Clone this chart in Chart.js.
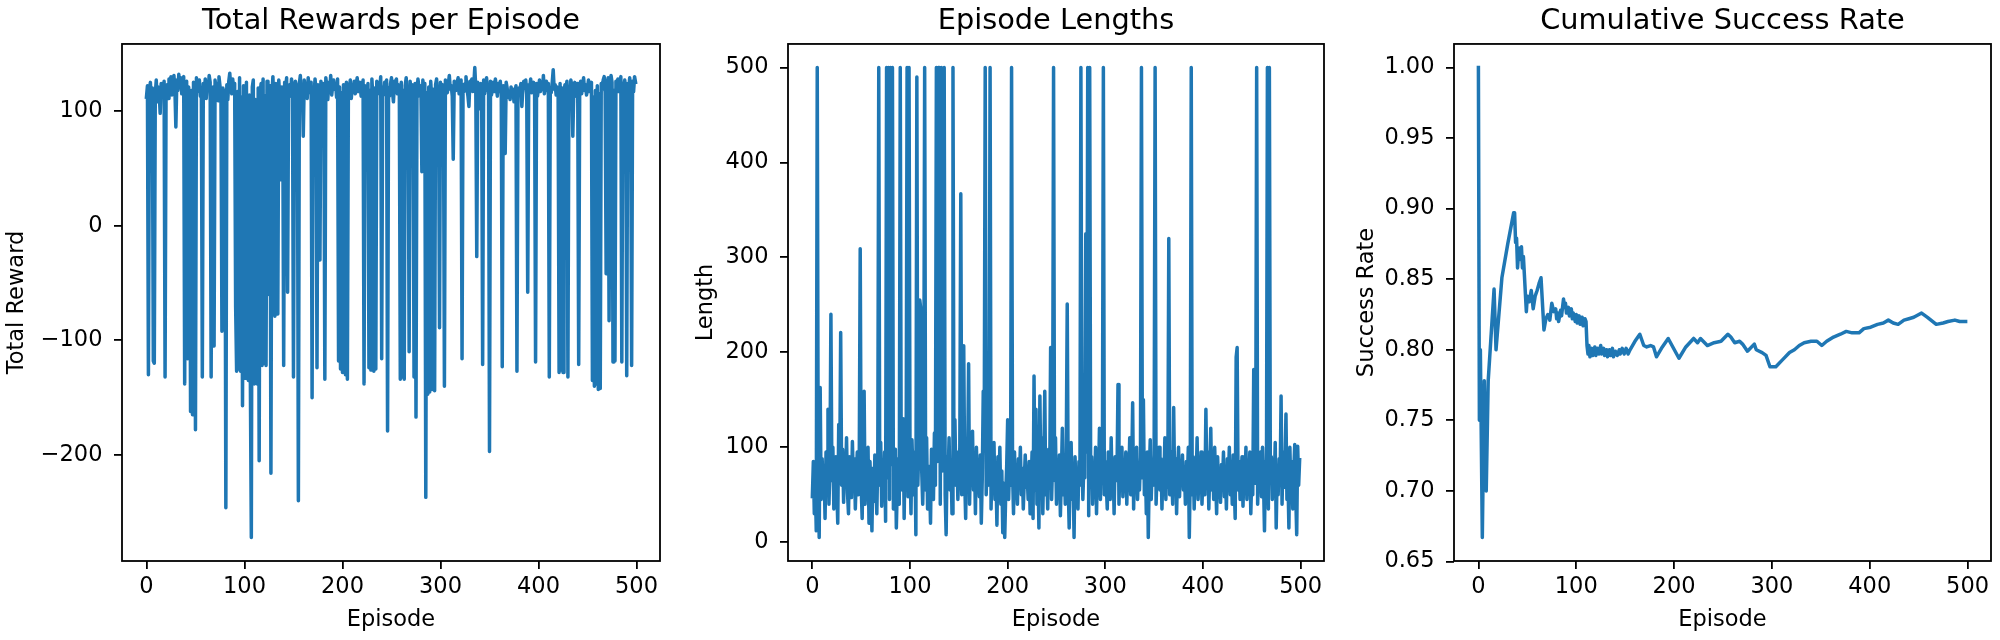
<!DOCTYPE html>
<html>
<head>
<meta charset="utf-8">
<script src="https://cdn.jsdelivr.net/npm/chart.js@4.4.1/dist/chart.umd.min.js"></script>
<style>
html,body{margin:0;padding:0;background:#fff;}
body{width:2000px;height:640px;position:relative;overflow:hidden;}
canvas{position:absolute;top:0;}
</style>
</head>
<body>
<canvas id="c1"></canvas>
<canvas id="c2"></canvas>
<canvas id="c3"></canvas>
<script>
// ---------------- DATA ----------------
const rewards = [
112,122,-130,118,125,110,120,-118,-120,115,127,108,121,116,98,124,113,119,126,-132,
117,123,111,128,119,130,114,125,131,120,86,127,118,132,122,129,115,124,130,-138,
119,126,-116,121,112,-162,118,-165,125,110,-178,129,117,122,127,113,120,-132,124,116,
128,111,123,119,131,125,-132,114,121,-105,127,118,124,109,130,122,115,-92,120,-90,
118,-246,123,110,126,133,121,115,128,119,124,-71,-127,117,-125,129,-127,112,-157,122,
118,-133,125,-130,-135,114,-133,-272,121,127,-138,110,-135,-138,120,-205,116,124,-122,128,
-120,113,-122,126,-60,119,122,-216,115,130,108,-79,124,118,-77,127,112,40,121,116,
-122,125,119,129,-58,117,123,113,128,120,-132,115,126,121,118,-240,124,131,114,122,
78,127,119,124,111,129,121,116,125,-150,120,113,128,118,-124,123,115,-30,126,120,
117,124,-134,129,121,110,125,118,131,114,122,127,119,124,112,128,-118,121,-125,116,
-128,123,118,-130,125,-134,114,120,127,111,122,118,126,115,123,129,117,121,125,113,
119,127,-138,122,116,101,124,-124,118,-126,128,112,-127,120,-125,126,115,123,119,130,
-116,121,114,125,118,127,-179,120,113,124,129,117,108,126,121,128,115,123,119,-134,
125,-132,118,-134,122,129,114,120,-110,126,117,123,119,-132,124,-167,115,128,121,113,
122,47,127,118,124,-237,116,-147,121,-145,126,112,-143,119,-144,123,128,115,120,-89,
125,118,123,114,-140,127,120,116,124,131,119,122,113,58,126,121,118,125,129,115,
120,127,-116,123,117,124,130,119,113,104,126,121,128,117,123,138,120,-27,125,116,
102,124,119,-121,127,115,122,129,118,123,-197,126,114,120,125,117,128,121,113,124,
119,126,115,-123,122,118,63,125,120,112,117,110,121,114,119,108,116,122,-127,113,
120,117,124,104,118,126,121,127,115,-58,123,119,128,116,122,125,118,-119,124,113,
121,127,117,123,119,131,115,122,126,118,124,-132,120,116,125,136,119,123,114,121,
118,-128,124,-126,120,-128,117,123,119,126,-132,121,115,127,122,78,118,125,113,120,
124,-121,119,126,115,122,129,118,123,114,120,127,117,121,125,-135,112,-140,118,-138,
122,-143,115,-142,124,119,127,130,116,-42,123,129,-83,120,131,125,-119,118,-118,126,
121,128,117,124,130,-119,115,122,127,119,-131,124,118,129,121,-122,126,117,130,125
];

const lengths = [
48,85,30,62,12,500,70,5,163,45,88,60,75,25,95,55,140,40,80,240,
65,100,35,78,90,58,20,124,72,221,60,98,42,85,68,110,52,30,90,75,
47,106,62,88,35,70,95,50,80,309,58,25,92,159,40,73,65,100,20,85,
55,12,78,43,92,65,30,88,500,60,105,38,75,50,95,22,500,68,500,45,
500,82,500,35,70,98,15,60,88,40,500,75,55,130,25,100,62,500,48,500,
85,30,108,70,50,95,8,490,60,102,255,246,75,40,90,500,55,110,35,80,
65,20,98,72,45,115,60,500,85,500,500,40,500,75,105,500,50,8,90,68,
110,55,85,30,500,78,129,60,95,45,72,100,367,50,88,207,65,25,105,80,
188,40,95,70,117,55,85,30,100,62,75,48,92,20,68,159,110,500,50,85,
60,95,500,35,80,65,105,45,72,18,90,58,100,40,75,10,62,5,50,80,
129,45,85,60,500,75,30,95,55,70,40,88,62,100,50,78,35,65,92,58,
70,45,85,30,60,95,25,175,55,140,40,78,15,154,65,110,30,88,159,50,
75,35,98,60,205,45,85,500,65,110,40,78,55,92,28,70,120,50,85,40,
95,251,60,15,80,105,45,70,5,90,55,75,35,85,60,500,110,45,80,68,
325,95,500,28,500,65,90,40,75,55,100,30,80,62,120,45,88,70,500,50,
85,60,35,95,70,45,110,55,80,30,90,65,75,166,40,85,58,100,48,72,
60,95,40,80,65,110,50,75,147,35,88,62,100,45,78,55,90,500,68,150,
50,85,30,95,5,70,108,45,80,60,92,500,40,75,65,100,55,88,35,78,
65,110,45,85,58,320,50,95,70,40,142,62,88,30,75,100,48,80,60,92,
55,78,40,85,65,100,5,72,500,50,90,35,80,62,110,45,75,58,95,40,
70,88,50,140,62,95,35,78,120,55,85,45,100,65,30,90,58,75,42,82,
60,95,48,75,35,88,65,100,50,80,40,92,62,25,195,205,55,85,45,70,
90,38,75,60,100,45,82,55,95,30,70,50,182,62,85,500,40,78,58,95,
48,100,65,12,85,55,500,35,500,70,90,45,80,60,105,15,75,50,88,62,
154,40,95,58,80,135,45,70,15,100,55,85,35,75,103,50,8,101,60,87
];

const rateEpisodes = [
0,1,2,4,6,8,10,16,18,24,30,36,37,38,39,40,41,42,43,44,45,46,47,49,50,52,54,56,58,60,62,64,67,69,71,73,75,77,79,80,81,82,84,85,87,88,89,90,92,93,95,96,97,99,100,101,103,104,106,107,109,110,
111,112,113,114,116,117,119,120,122,123,125,126,128,129,131,132,134,135,137,138,140,142,144,145,147,149,151,153,155,160,165,169,172,176,179,182,188,194,205,212,220,224,227,234,241,248,255,258,262,267,270,275,282,284,290,294,298,304,311,318,323,328,333,340,346,351,356,363,370,376,382,389,394,401,408,414,419,424,429,435,440,445,453,459,468,475,480,487,492,498];
const rateValues = [
1.0,0.75,0.80,0.667,0.778,0.70,0.778,0.843,0.80,0.851,0.875,0.897,0.897,0.876,0.879,0.858,0.868,0.872,0.864,0.873,0.858,0.866,0.853,0.827,0.838,0.834,0.842,0.829,0.838,0.842,0.847,0.851,0.814,0.822,0.825,0.821,0.833,0.827,0.829,0.822,0.826,0.820,0.828,0.824,0.836,0.830,0.833,0.826,0.830,0.824,0.829,0.822,0.826,0.820,0.825,0.819,0.824,0.818,0.823,0.817,0.822,0.820,
0.803,0.797,0.803,0.795,0.801,0.796,0.802,0.796,0.801,0.797,0.803,0.797,0.801,0.796,0.800,0.795,0.800,0.796,0.801,0.795,0.799,0.796,0.800,0.797,0.801,0.797,0.801,0.797,0.800,0.806,0.811,0.803,0.802,0.803,0.802,0.795,0.802,0.808,0.794,0.802,0.808,0.805,0.808,0.803,0.805,0.806,0.811,0.809,0.805,0.806,0.804,0.799,0.804,0.800,0.798,0.796,0.788,0.788,0.793,0.798,0.800,0.803,0.805,0.806,0.806,0.803,0.806,0.809,0.811,0.813,0.812,0.812,0.815,0.816,0.818,0.819,0.821,0.819,0.818,0.821,0.822,0.823,0.826,0.823,0.818,0.819,0.820,0.821,0.820,0.820];

const xTicks = [0,100,200,300,400,500];
const rewardTicks = [-200,-100,0,100];
const lengthTicks = [0,100,200,300,400,500];
const rateTicks = [0.65,0.70,0.75,0.80,0.85,0.90,0.95,1.00];

const titles = ['Total Rewards per Episode','Episode Lengths','Cumulative Success Rate'];
const yTitles = ['Total Reward','Length','Success Rate'];
const xTitle = 'Episode';

// ---------------- RENDER ----------------
const FONT = "'DejaVu Sans', 'Liberation Sans', sans-serif";
const BLUE = '#1f77b4';
Chart.defaults.font.family = FONT;
Chart.defaults.color = '#000';

function lim(vals){
  const mn = Math.min(...vals), mx = Math.max(...vals);
  const m = (mx - mn) * 0.05;
  return [mn - m, mx + m];
}
const xLim = lim([0, rewards.length - 1]);

const boxPlugin = {
  id: 'box',
  afterDatasetsDraw(chart){
    const a = chart.chartArea, ctx = chart.ctx;
    ctx.save();
    ctx.strokeStyle = '#000';
    ctx.lineWidth = 1.8;
    ctx.strokeRect(a.left, a.top, a.right - a.left, a.bottom - a.top);
    ctx.restore();
  }
};

function fmtNum(v){ return v < 0 ? '\u2212' + Math.abs(v) : String(v); }

function make(id, left, width, yAxisW, yTitlePad, points, yTicks, yLimits, title, yTitle, fmt){
  const cv = document.getElementById(id);
  cv.width = width; cv.height = 640;
  cv.style.left = left + 'px';
  cv.style.width = width + 'px'; cv.style.height = '640px';
  return new Chart(cv, {
    type: 'line',
    data: { datasets: [{
      data: points,
      borderColor: BLUE,
      borderWidth: 3.5,
      pointRadius: 0,
      tension: 0,
      fill: false,
      borderJoinStyle: 'round',
      borderCapStyle: 'square'
    }]},
    options: {
      responsive: false,
      animation: false,
      devicePixelRatio: 1,
      events: [],
      layout: { padding: { left: 0, right: 6, top: 0, bottom: 0 } },
      plugins: {
        legend: { display: false },
        tooltip: { enabled: false },
        title: {
          display: true, text: title, fullSize: false, color: '#000',
          font: { family: FONT, size: 28.8, weight: 'normal', lineHeight: 1.2 },
          padding: { top: 4, bottom: 5.4 }
        }
      },
      scales: {
        x: {
          type: 'linear', min: xLim[0], max: xLim[1],
          afterFit(s){ s.height = 79; },
          afterBuildTicks(s){ s.ticks = xTicks.map(v => ({ value: v })); },
          grid: { display: true, drawOnChartArea: false, drawTicks: true, tickLength: 8, color: '#000', lineWidth: 1.8 },
          border: { display: false },
          ticks: { color: '#000', font: { size: 22.5 }, padding: 5, maxRotation: 0, autoSkip: false,
                   callback: v => fmtNum(v) },
          title: { display: true, text: xTitle, color: '#000', font: { size: 22.5, lineHeight: 1.2 },
                   padding: { top: 0, bottom: 6 } }
        },
        y: {
          type: 'linear', min: yLimits[0], max: yLimits[1],
          afterFit(s){ s.width = yAxisW; },
          afterBuildTicks(s){ s.ticks = yTicks.map(v => ({ value: v })); },
          grid: { display: true, drawOnChartArea: false, drawTicks: true, tickLength: 8, color: '#000', lineWidth: 1.8 },
          border: { display: false },
          ticks: { color: '#000', font: { size: 22.5 }, padding: 11.5, autoSkip: false, callback: fmt },
          title: { display: true, text: yTitle, color: '#000', font: { size: 22.5, lineHeight: 1.2 },
                   padding: { top: yTitlePad, bottom: 0 } }
        }
      }
    },
    plugins: [boxPlugin]
  });
}

const rewardPts = rewards.map((v, i) => ({ x: i, y: v }));
const lengthPts = lengths.map((v, i) => ({ x: i, y: v }));
const ratePts = rateEpisodes.map((e, i) => ({ x: e, y: rateValues[i] }));

make('c1', 0, 666, 122, 3.2, rewardPts, rewardTicks, lim(rewards), titles[0], yTitles[0], v => fmtNum(v));
make('c2', 678, 652, 110, 14.5, lengthPts, lengthTicks, lim(lengths), titles[1], yTitles[1], v => fmtNum(v));
make('c3', 1344, 653, 110, 9.5, ratePts, rateTicks, lim(rateValues), titles[2], yTitles[2], v => v.toFixed(2));
</script>
</body>
</html>
